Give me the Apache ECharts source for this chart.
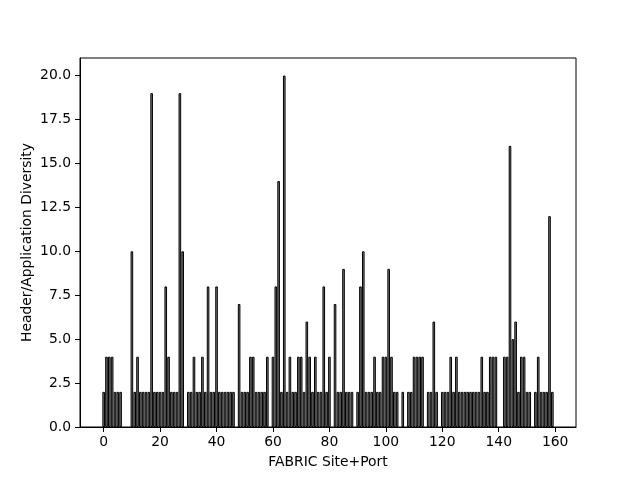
<!DOCTYPE html>
<html><head><meta charset="utf-8">
<script src="https://cdn.jsdelivr.net/npm/echarts@6/dist/echarts.min.js"></script>
<style>html,body{margin:0;padding:0;background:#fff}#c{width:640px;height:480px}</style>
</head><body><div id="c"></div>
<script>
// Header/Application diversity per FABRIC site+port index (null = no bar)
const diversity = [
  2,4,4,4,2,2,2,null,null,null,
  10,2,4,2,2,2,2,19,2,2,
  2,2,8,4,2,2,2,19,10,null,
  2,2,4,2,2,4,2,8,2,2,
  8,2,2,2,2,2,2,null,7,2,
  2,2,4,4,2,2,2,2,4,null,
  4,8,14,2,20,2,4,2,2,4,
  4,2,6,4,2,4,2,2,8,2,
  4,null,7,2,2,9,2,2,2,null,
  2,8,10,2,2,2,4,2,2,4,
  4,9,4,2,2,null,2,null,2,2,
  4,4,4,4,null,2,2,6,2,null,
  2,2,2,4,2,4,2,2,2,2,
  2,2,2,2,4,2,2,4,4,4,
  null,null,4,4,16,5,6,2,4,4,
  2,2,null,2,4,2,2,2,12,2
];
const xTicks = [0, 20, 40, 60, 80, 100, 120, 140, 160];
const yTicks = [0, 2.5, 5, 7.5, 10, 12.5, 15, 17.5, 20];
const xTitle = 'FABRIC Site+Port';
const yTitle = 'Header/Application Diversity';

const barData = [];
diversity.forEach((v, i) => { if (v !== null) barData.push([i, v]); });

const font = 'DejaVu Sans';
const chart = echarts.init(document.getElementById('c'), null, {renderer: 'canvas'});
chart.setOption({
  animation: false,
  backgroundColor: '#fff',
  grid: {left: 80, right: 64, top: 58, bottom: 53, show: true, borderColor: '#000', borderWidth: 1, backgroundColor: 'transparent'},
  xAxis: {
    type: 'value', min: -8.39, max: 167.39,
    name: xTitle, nameLocation: 'middle', nameGap: 28,
    nameTextStyle: {fontFamily: font, fontSize: 13.9, color: '#000'},
    axisLine: {show: true, onZero: false, lineStyle: {color: '#000', width: 1}},
    axisTick: {show: true, length: 5, lineStyle: {color: '#000'}, customValues: xTicks},
    axisLabel: {show: true, margin: 8, fontFamily: font, fontSize: 13.9, color: '#000', customValues: xTicks},
    splitLine: {show: false}
  },
  yAxis: {
    type: 'value', min: 0, max: 21,
    name: yTitle, nameLocation: 'middle', nameGap: 46, nameRotate: 90, nameMoveOverlap: false,
    nameTextStyle: {fontFamily: font, fontSize: 13.9, color: '#000'},
    axisLine: {show: true, onZero: false, lineStyle: {color: '#000', width: 1}},
    axisTick: {show: true, length: 5, lineStyle: {color: '#000'}, customValues: yTicks},
    axisLabel: {show: true, margin: 9, fontFamily: font, fontSize: 13.9, color: '#000', customValues: yTicks,
      formatter: v => Number(v).toFixed(1)},
    splitLine: {show: false}
  },
  series: [{
    type: 'bar',
    data: barData,
    barWidth: 2.6,
    itemStyle: {color: '#808080', borderColor: '#000', borderWidth: 1}
  }]
});
</script>
</body></html>
